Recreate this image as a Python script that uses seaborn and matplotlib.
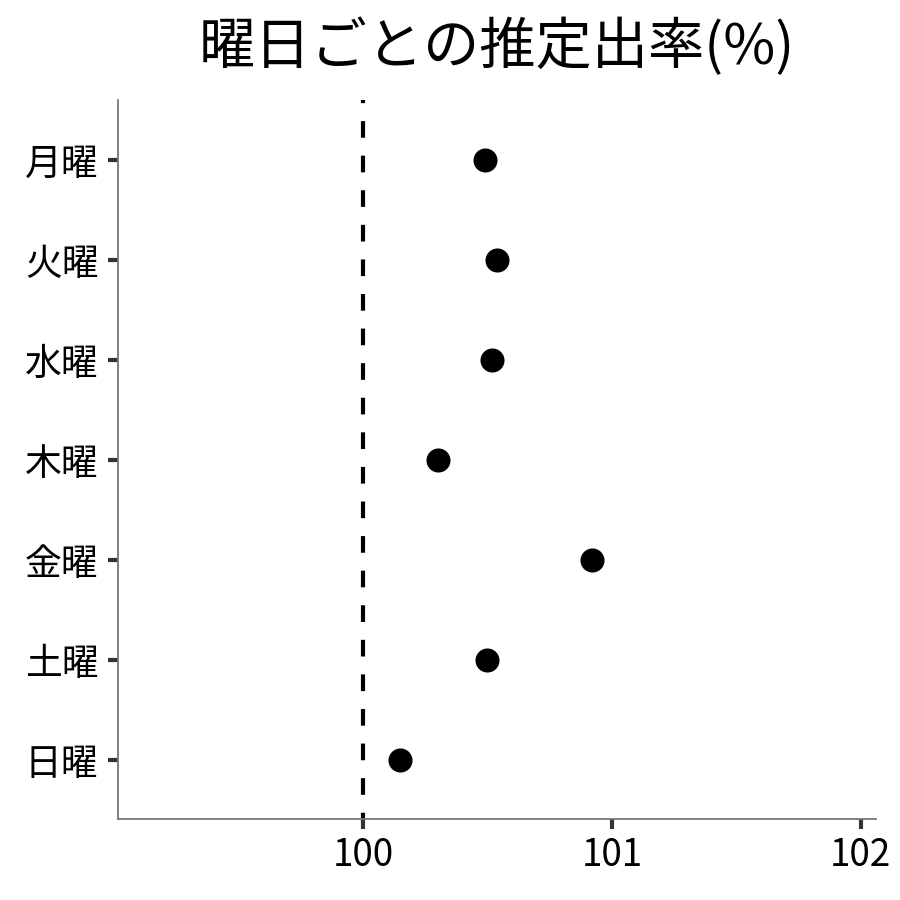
import pandas as pd
import seaborn as sns
import matplotlib.pyplot as plt

# Estimated rate by weekday
days = ['月曜', '火曜', '水曜', '木曜', '金曜', '土曜', '日曜']
rates = [100.49, 100.54, 100.52, 100.30, 100.92, 100.50, 100.15]

df = pd.DataFrame({'day': days, 'rate': rates})

sns.set_style('white')
plt.rcParams['font.family'] = ['Noto Sans CJK JP', 'DejaVu Sans']
plt.rcParams['text.color'] = 'black'
plt.rcParams['xtick.color'] = '#333333'
plt.rcParams['ytick.color'] = '#333333'
plt.rcParams['xtick.labelcolor'] = 'black'
plt.rcParams['ytick.labelcolor'] = 'black'

fig = plt.figure(figsize=(9, 9), dpi=100)
ax = fig.add_axes([0.131, 0.09, 0.842, 0.799])

# Reference line at 100%
ax.axvline(100, color='black', linestyle=(2.5, (4, 4.3)), linewidth=3, zorder=1)

sns.scatterplot(data=df, x='rate', y='day', color='black', s=300,
                edgecolor='black', linewidth=0, ax=ax, zorder=3)

ax.set_xlim(99.016, 102.06)
ax.set_ylim(6.59, -0.6)
ax.set_xticks([100, 101, 102])
ax.set_xlabel('')
ax.set_ylabel('')
ax.set_title('曜日ごとの推定出率(%)', fontsize=40.5, pad=26)

for side in ['top', 'right']:
    ax.spines[side].set_visible(False)
for side in ['left', 'bottom']:
    ax.spines[side].set_color('#777777')
    ax.spines[side].set_linewidth(1.3)

ax.tick_params(axis='both', which='major', bottom=True, left=True,
               labelsize=26.5, length=7, width=3, pad=5)
ax.tick_params(axis='y', pad=7)

plt.savefig('out.png', dpi=100)
